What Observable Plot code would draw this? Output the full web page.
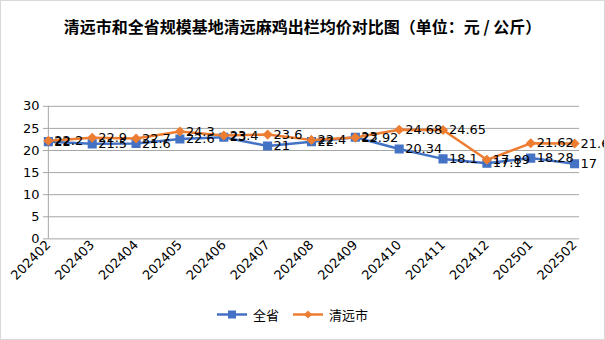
<!DOCTYPE html>
<html><head><meta charset="utf-8">
<script src="https://cdn.jsdelivr.net/npm/d3@7"></script>
<script src="https://cdn.jsdelivr.net/npm/@observablehq/plot@0.6"></script>
<style>
html,body{margin:0;padding:0;background:#fff;}
#wrap{position:relative;width:603px;height:338px;border:1px solid #d9d9d9;font-family:"DejaVu Sans",sans-serif;}
#title{position:absolute;top:13px;left:0;width:603px;text-align:center;font-family:"Noto Sans CJK SC",sans-serif;font-weight:bold;font-size:16px;color:#000;}
#chart{position:absolute;top:48px;left:0;}
#legend{position:absolute;top:304px;left:-10px;width:603px;display:flex;justify-content:center;gap:14px;font-family:"Noto Sans CJK SC",sans-serif;font-size:13px;}
#legend .item{display:flex;align-items:center;gap:6px;}
</style></head>
<body><div id="wrap"><div id="title">清远市和全省规模基地清远麻鸡出栏均价对比图（单位：元 / 公斤）</div><div id="chart"></div><div id="legend"></div></div>
<script>
const months = ["202402","202403","202404","202405","202406","202407","202408","202409","202410","202411","202412","202501","202502"];
const province = [22, 21.5, 21.6, 22.6, 23, 21, 22, 23, 20.34, 18.1, 17.1, 18.28, 17];
const qingyuan = [22.2, 22.9, 22.7, 24.3, 23.4, 23.6, 22.4, 22.92, 24.68, 24.65, 17.89, 21.62, 21.6];
const seriesNames = ["全省", "清远市"];
const colors = ["#4472C4", "#ED7D31"];
const yTicks = [0, 5, 10, 15, 20, 25, 30];

const data = [];
months.forEach((m, i) => {
  data.push({month: m, value: province[i], series: seriesNames[0]});
  data.push({month: m, value: qingyuan[i], series: seriesNames[1]});
});
const pData = data.filter(d => d.series === seriesNames[0]);
const qData = data.filter(d => d.series === seriesNames[1]);

const chart = Plot.plot({
  width: 605, height: 252,
  marginLeft: 42, marginRight: 25, marginTop: 57, marginBottom: 62,
  style: {fontFamily: "DejaVu Sans, sans-serif", fontSize: "13px", color: "#000", background: "transparent"},
  x: {type: "point", domain: months, padding: 0},
  y: {domain: [0, 30], ticks: yTicks},
  marks: [
    Plot.gridY(yTicks.filter(t => t > 0), {stroke: "#a6a6a6", strokeOpacity: 1}),
    Plot.ruleY([0], {stroke: "#a6a6a6"}),
    Plot.ruleX([months[0]], {stroke: "#a6a6a6"}),
    Plot.axisY({ticks: yTicks, tickSize: 0, tickPadding: 4, fontSize: 13, fill: "#000", label: null}),
    Plot.axisX({tickSize: 0, tickRotate: -45, tickPadding: 4, fontSize: 13, fill: "#000", label: null}),
    Plot.line(pData, {x: "month", y: "value", stroke: colors[0], strokeWidth: 2.5}),
    Plot.line(qData, {x: "month", y: "value", stroke: colors[1], strokeWidth: 2.5}),
    Plot.dot(pData, {x: "month", y: "value", symbol: "square", r: 4.3, fill: colors[0], stroke: colors[0]}),
    Plot.dot(qData, {x: "month", y: "value", symbol: "diamond2", r: 3.6, fill: colors[1], stroke: colors[1]}),
    Plot.text(pData, {x: "month", y: "value", text: d => String(d.value), dx: 6, textAnchor: "start", fontSize: 13, fill: "#000"}),
    Plot.text(qData, {x: "month", y: "value", text: d => String(d.value), dx: 6, textAnchor: "start", fontSize: 13, fill: "#000"})
  ]
});
document.getElementById("chart").appendChild(chart);

const legend = document.getElementById("legend");
seriesNames.forEach((name, i) => {
  const item = document.createElement("div");
  item.className = "item";
  const sym = i === 0
    ? `<rect x="11" y="1.5" width="8" height="8" fill="${colors[0]}"/>`
    : `<path d="M15,1.5 L19,5.5 L15,9.5 L11,5.5 Z" fill="${colors[1]}"/>`;
  item.innerHTML = `<svg width="30" height="11"><line x1="0" x2="30" y1="5.5" y2="5.5" stroke="${colors[i]}" stroke-width="2.5"/>${sym}</svg><span>${name}</span>`;
  legend.appendChild(item);
});
</script></body></html>
